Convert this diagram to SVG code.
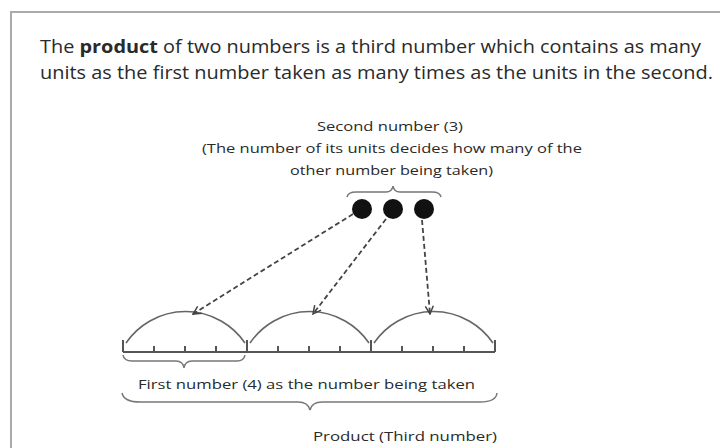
<svg xmlns="http://www.w3.org/2000/svg" width="720" height="448" viewBox="0 0 720 448">
<style>
text{font-family:"Open Sans","Liberation Sans",sans-serif;fill:#2a2a2a}
.t{font-size:18px}
.s{font-size:13px}
.ln{stroke:#555;stroke-width:2;fill:none}
.arc{stroke:#666;stroke-width:1.6;fill:none}
.br{stroke:#777;stroke-width:1.5;fill:none}
.dash{stroke:#444;stroke-width:1.8;fill:none;stroke-dasharray:5 3}
</style>
<defs>
<marker id="ah" viewBox="0 0 10 10" refX="9" refY="5" markerWidth="10" markerHeight="10" markerUnits="userSpaceOnUse" orient="auto">
<path d="M1,1 L9,5 L1,9" fill="none" stroke="#444" stroke-width="1.5"/>
</marker>
</defs>
<rect x="11" y="12" width="720" height="450" fill="#fff" stroke="#aaa" stroke-width="2"/>
<g id="title">
<text class="t" x="40" y="53" textLength="661" lengthAdjust="spacingAndGlyphs">The <tspan font-weight="bold">product</tspan> of two numbers is a third number which contains as many</text>
<text class="t" x="40" y="79" textLength="673" lengthAdjust="spacingAndGlyphs">units as the first number taken as many times as the units in the second.</text>
</g>
<g id="second-label">
<text class="s" x="317" y="131" textLength="146" lengthAdjust="spacingAndGlyphs">Second number (3)</text>
<text class="s" x="202" y="153" textLength="380" lengthAdjust="spacingAndGlyphs">(The number of its units decides how many of the</text>
<text class="s" x="290" y="175" textLength="203" lengthAdjust="spacingAndGlyphs">other number being taken)</text>
</g>
<g id="second-number">
<path class="br" d="M347,197 Q348,192 356,192 L386,192 Q392,192 393,186 Q394,192 400,192 L432,192 Q440,192 441,197"/>
<circle cx="362" cy="209" r="10" fill="#111"/>
<circle cx="393" cy="209" r="10" fill="#111"/>
<circle cx="424" cy="209" r="10" fill="#111"/>
</g>
<g id="number-line">
<line class="ln" x1="123" y1="352" x2="495" y2="352"/>
<path class="ln" d="M123,340 V352 M247,340 V352 M371,340 V352 M495,340 V352"/>
<path class="ln" stroke-width="1.6" d="M154,346 V352 M185,346 V352 M216,346 V352 M278,346 V352 M309,346 V352 M340,346 V352 M402,346 V352 M433,346 V352 M464,346 V352"/>
<path class="arc" d="M126,343 A72 72 0 0 1 245,343"/>
<path class="arc" d="M250,343 A72 72 0 0 1 369,343"/>
<path class="arc" d="M374,343 A72 72 0 0 1 493,343"/>
</g>
<g id="connectors">
<line class="dash" x1="353" y1="214" x2="193" y2="314" marker-end="url(#ah)"/>
<line class="dash" x1="386" y1="219" x2="313" y2="314" marker-end="url(#ah)"/>
<line class="dash" x1="422" y1="220" x2="430" y2="314" marker-end="url(#ah)"/>
</g>
<g id="first-number">
<path class="br" d="M123,355 Q124,361 132,361 L176,361 Q183,361 184,368 Q185,361 192,361 L237,361 Q244,361 245,355"/>
<text class="s" x="138" y="389" textLength="337" lengthAdjust="spacingAndGlyphs">First number (4) as the number being taken</text>
</g>
<g id="product">
<path class="br" d="M122,393 Q124,402 140,402 L298,402 Q308,402 310,410 Q312,402 322,402 L480,402 Q496,402 497,393"/>
<text class="s" x="313" y="441" textLength="184" lengthAdjust="spacingAndGlyphs">Product (Third number)</text>
</g>
</svg>
